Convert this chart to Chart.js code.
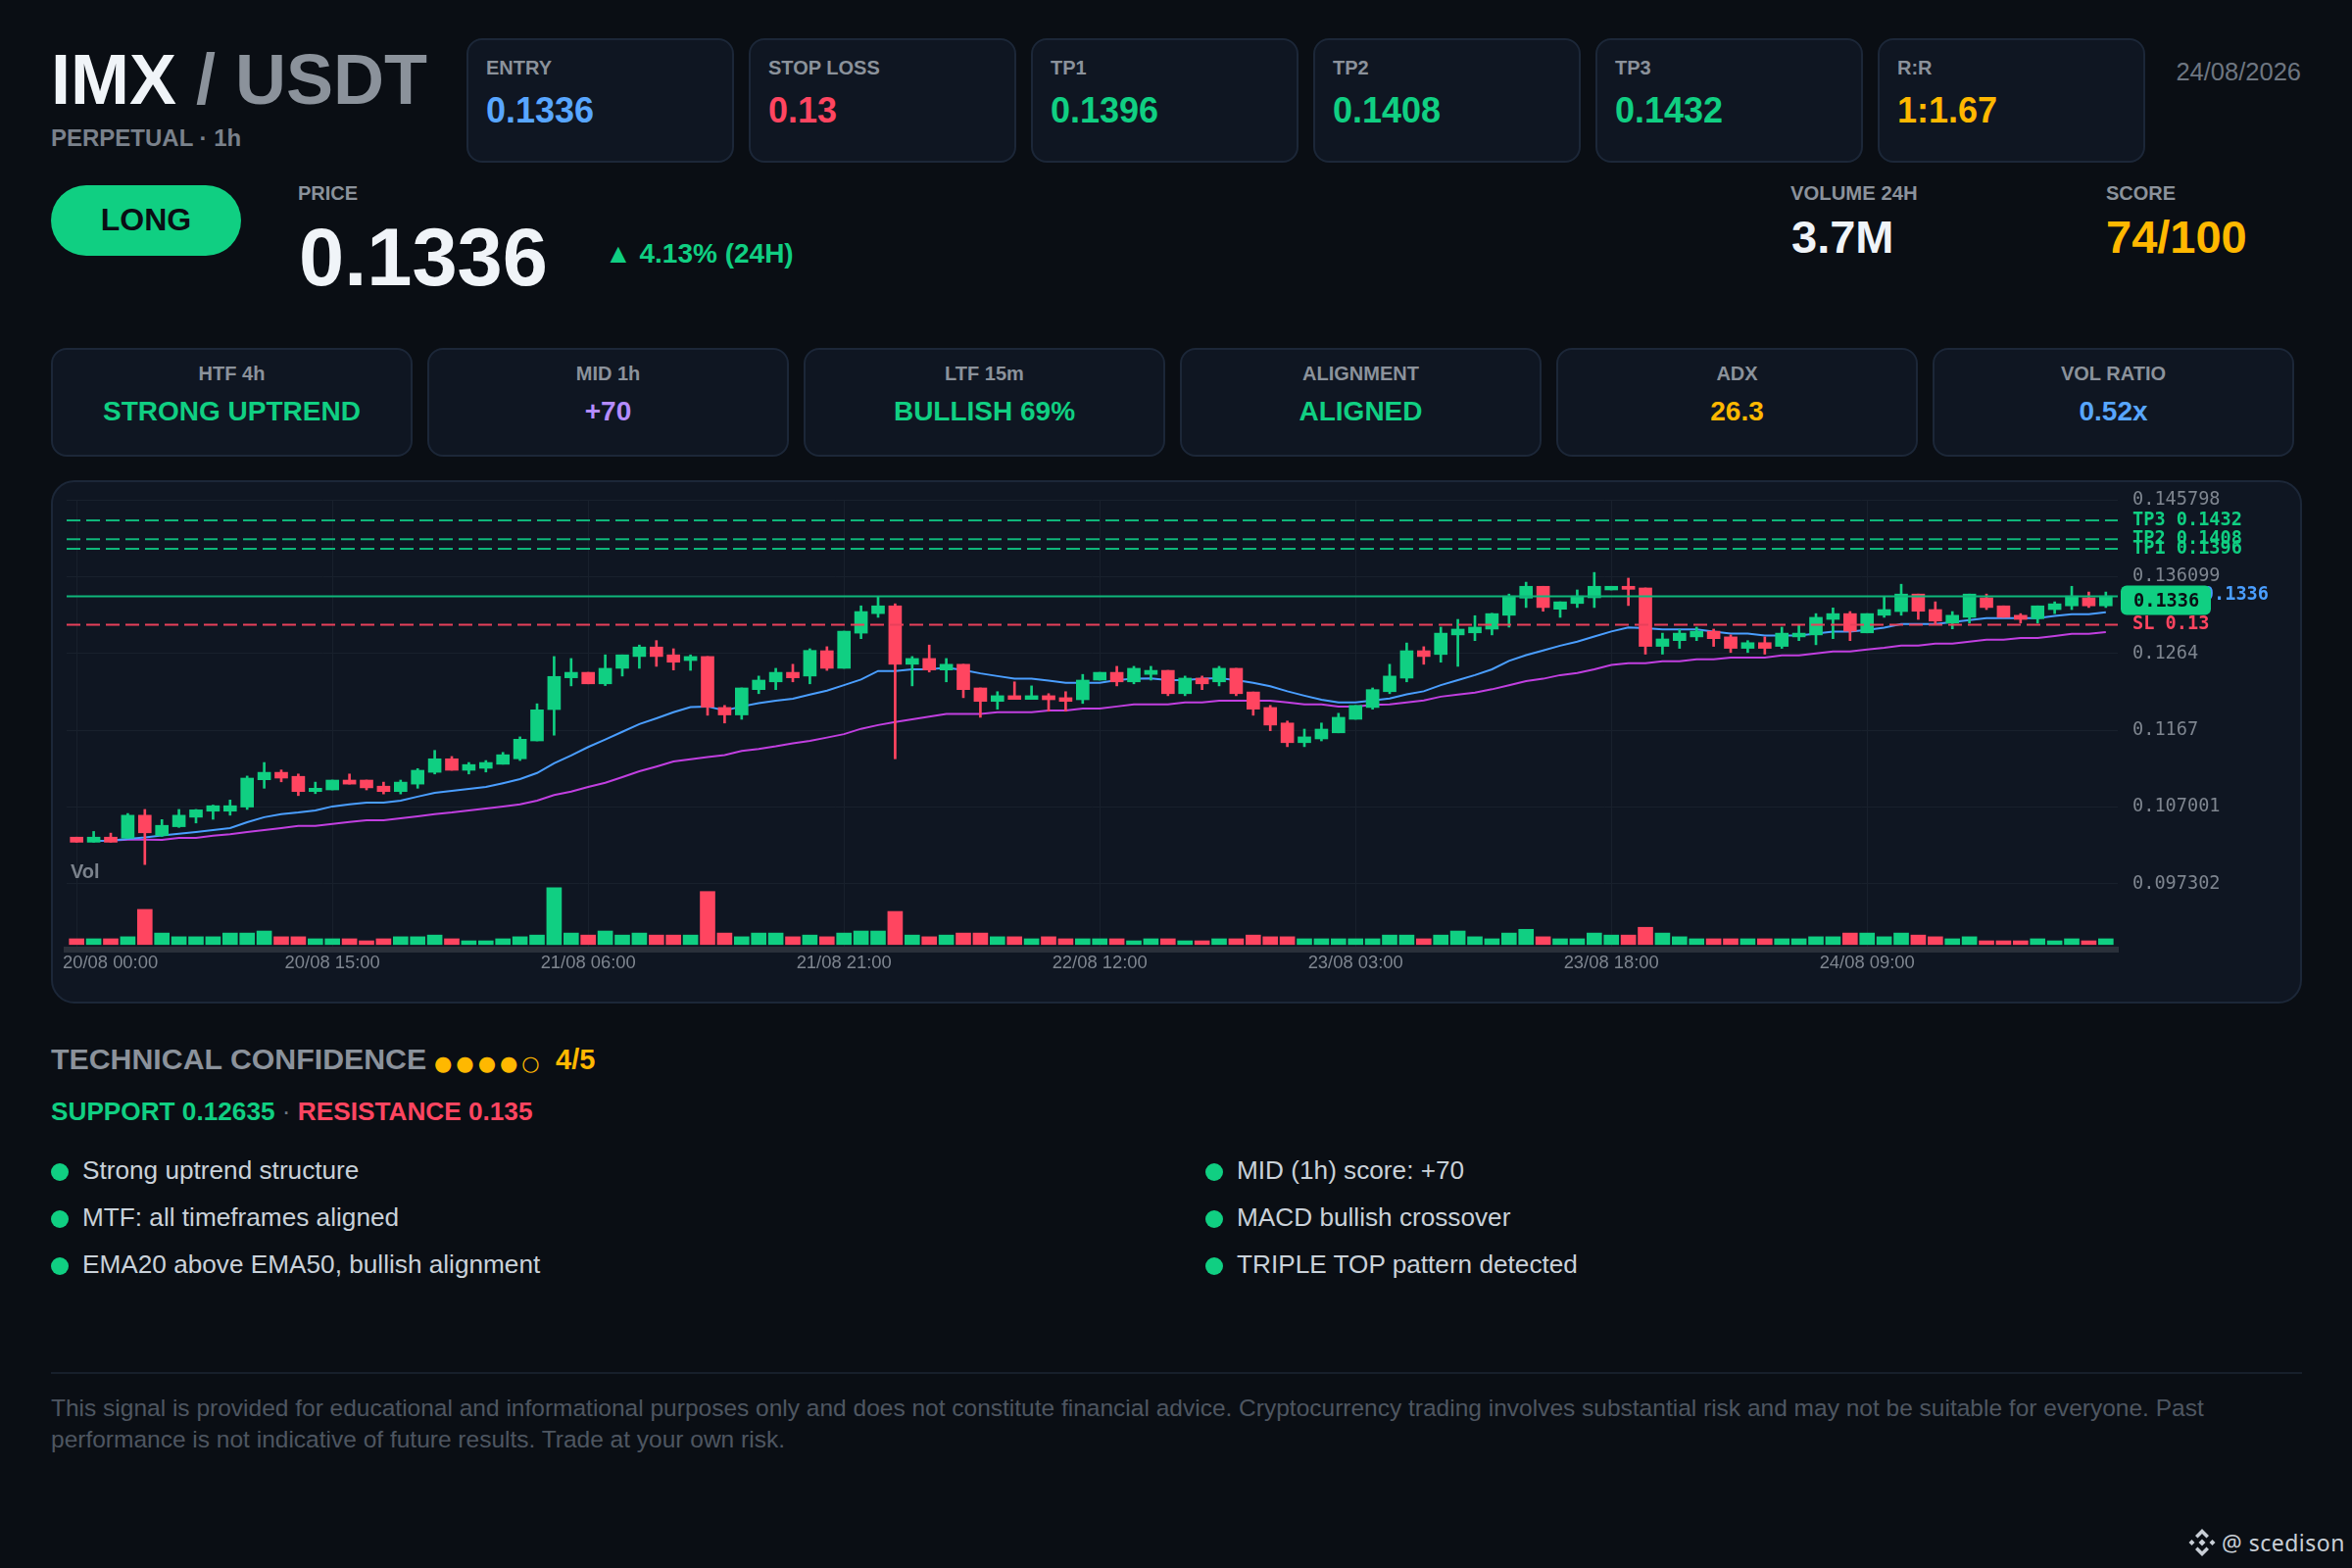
<!DOCTYPE html>
<html>
<head>
<meta charset="utf-8">
<title>IMX / USDT signal</title>
<script src="https://cdn.jsdelivr.net/npm/chart.js@4/dist/chart.umd.min.js"></script>
<style>
html, body { margin: 0; padding: 0; background: #0a0e14; }
body { position: relative; width: 2400px; height: 1600px; overflow: hidden; font-family: "Liberation Sans", Arial, sans-serif; }
.t { position: absolute; white-space: nowrap; line-height: 1; transform: translateY(-50%); font-weight: bold; }
.card { position: absolute; box-sizing: border-box; background: #0f1622; border: 2px solid #1c2738; border-radius: 16px; }
.gray { color: #8b929b; }
.green { color: #10cf82; }
.red { color: #ff4560; }
.blue { color: #58a6ff; }
.yellow { color: #ffb800; }
.purple { color: #b58cff; }
.dot { position: absolute; width: 18px; height: 18px; border-radius: 50%; background: #10cf82; transform: translateY(-50%); }
.li { font-weight: normal; font-size: 26.2px; color: #c9d1d9; }
#panel { position: absolute; left: 52px; top: 490px; width: 2297px; height: 534px; box-sizing: border-box; background: #0f1622; border: 2px solid #1c2738; border-radius: 24px; }
#chart { position: absolute; left: 52px; top: 490px; }
</style>
</head>
<body>

<div class="t" style="left:52px;top:81px;font-size:72px;color:#f0f4f8">IMX <span style="color:#8b929b">/ USDT</span></div>
<div class="t" style="left:52px;top:141px;font-size:24px;color:#7a818b">PERPETUAL · 1h</div>
<div class="t" style="right:52px;top:74px;font-size:25.5px;color:#6e7681;font-weight:normal">24/08/2026</div>

<div id="levels"></div>

<div style="position:absolute;left:52px;top:189px;width:194px;height:72px;border-radius:36px;background:#10cf82"></div>
<div class="t" style="left:52px;width:194px;text-align:center;top:224px;font-size:32px;color:#0a0e14">LONG</div>
<div class="t gray" style="left:304px;top:197px;font-size:20px">PRICE</div>
<div class="t" style="left:305px;top:262px;font-size:83px;color:#f0f4f8">0.1336</div>
<div class="t green" style="left:617px;top:259px;font-size:28px">▲ 4.13% (24H)</div>
<div class="t gray" style="left:1827px;top:197px;font-size:20.3px">VOLUME 24H</div>
<div class="t" style="left:1828px;top:241px;font-size:47px;color:#f0f4f8">3.7M</div>
<div class="t gray" style="left:2149px;top:197px;font-size:20px">SCORE</div>
<div class="t yellow" style="left:2149px;top:241px;font-size:47px">74/100</div>

<div id="stats"></div>

<div id="panel"></div>
<canvas id="chart" width="2297" height="534"></canvas>
<div class="t" style="left:72px;top:889px;font-size:20px;color:#7b828c">Vol</div>

<div class="t gray" style="left:52px;top:1081px;font-size:30.3px">TECHNICAL CONFIDENCE</div>
<div class="t yellow" style="left:443px;top:1085px;font-size:21px;letter-spacing:4px;font-family:'DejaVu Sans';font-weight:normal">●●●●○</div>
<div class="t yellow" style="left:567px;top:1081px;font-size:29px">4/5</div>
<div class="t" style="left:52px;top:1134px;font-size:26.2px"><span class="green">SUPPORT 0.12635</span> <span style="color:#6e7681;font-weight:normal">·</span> <span class="red">RESISTANCE 0.135</span></div>

<div id="notes"></div>

<div style="position:absolute;left:52px;top:1400px;width:2297px;height:2px;background:#171f2b"></div>
<div style="position:absolute;left:52px;top:1421px;font-size:24.5px;line-height:32px;color:#4e5661;white-space:nowrap">This signal is provided for educational and informational purposes only and does not constitute financial advice. Cryptocurrency trading involves substantial risk and may not be suitable for everyone. Past<br>performance is not indicative of future results. Trade at your own risk.</div>

<svg style="position:absolute;left:2233px;top:1560px" width="28" height="28" viewBox="0 0 28 28" fill="#c8ced6">
<path d="M14 0 L21 7 L18.5 9.5 L14 5 L9.5 9.5 L7 7 Z"/>
<path d="M14 28 L7 21 L9.5 18.5 L14 23 L18.5 18.5 L21 21 Z"/>
<path d="M14 10.5 L17.5 14 L14 17.5 L10.5 14 Z"/>
<path d="M3.5 11 L6.5 14 L3.5 17 L0.5 14 Z"/>
<path d="M24.5 11 L27.5 14 L24.5 17 L21.5 14 Z"/>
</svg>
<div class="t" style="left:2267px;top:1574px;font-size:23px;font-weight:normal;color:#c8ced6;font-family:'Noto Sans';letter-spacing:0.5px">@ scedison</div>

<script>
// candles, 1h, 20/08 00:00 to 24/08 23:00
const opens = [
0.10318,0.10254,0.10318,0.10305,0.10595,0.10339,0.10450,0.10570,0.10646,0.10646,
0.10698,0.11043,0.11137,0.11086,0.10894,0.10915,0.11039,0.11039,0.10962,0.10894,
0.10988,0.11137,0.11308,0.11163,0.11188,0.11239,0.11308,0.11534,0.11930,0.12331,
0.12400,0.12255,0.12451,0.12600,0.12720,0.12621,0.12549,0.12600,0.11956,0.11862,
0.12182,0.12280,0.12400,0.12353,0.12673,0.12451,0.12895,0.13142,0.13240,0.12502,
0.12575,0.12430,0.12502,0.12203,0.12033,0.12105,0.12058,0.12105,0.12080,0.12054,
0.12302,0.12400,0.12280,0.12374,0.12425,0.12131,0.12327,0.12280,0.12451,0.12152,
0.11956,0.11760,0.11512,0.11559,0.11636,0.11807,0.11956,0.12156,0.12327,0.12673,
0.12626,0.12873,0.12899,0.12946,0.13121,0.13338,0.13487,0.13197,0.13270,0.13342,
0.13441,0.13487,0.13466,0.12728,0.12801,0.12848,0.12920,0.12848,0.12703,0.12775,
0.12728,0.12848,0.12873,0.13069,0.13142,0.12899,0.13121,0.13168,0.13389,0.13193,
0.13022,0.13095,0.13342,0.13240,0.13121,0.13078,0.13193,0.13240,0.13342,0.13240];
const highs = [
0.10318,0.10390,0.10369,0.10617,0.10668,0.10540,0.10668,0.10668,0.10723,0.10787,
0.11090,0.11261,0.11167,0.11116,0.11013,0.11039,0.11116,0.11039,0.11013,0.11039,
0.11184,0.11414,0.11337,0.11261,0.11286,0.11389,0.11585,0.12003,0.12600,0.12575,
0.12400,0.12621,0.12621,0.12745,0.12801,0.12698,0.12621,0.12600,0.11982,0.12203,
0.12353,0.12451,0.12502,0.12698,0.12724,0.12920,0.13240,0.13351,0.13266,0.12600,
0.12745,0.12575,0.12502,0.12203,0.12156,0.12280,0.12229,0.12131,0.12156,0.12374,
0.12400,0.12476,0.12476,0.12476,0.12425,0.12353,0.12353,0.12476,0.12451,0.12152,
0.11982,0.11785,0.11683,0.11760,0.11883,0.11982,0.12203,0.12502,0.12771,0.12724,
0.12971,0.13069,0.13116,0.13146,0.13389,0.13539,0.13487,0.13291,0.13441,0.13662,
0.13487,0.13590,0.13466,0.12895,0.12941,0.12971,0.12946,0.12873,0.12801,0.12848,
0.12971,0.12993,0.13142,0.13214,0.13168,0.13142,0.13351,0.13513,0.13389,0.13291,
0.13168,0.13389,0.13389,0.13240,0.13142,0.13240,0.13291,0.13487,0.13415,0.13415];
const lows = [
0.10254,0.10254,0.10254,0.10305,0.09972,0.10326,0.10441,0.10497,0.10544,0.10595,
0.10668,0.10936,0.11017,0.10843,0.10868,0.10915,0.10988,0.10915,0.10864,0.10864,
0.10936,0.11116,0.11163,0.11116,0.11141,0.11239,0.11286,0.11534,0.11606,0.12229,
0.12255,0.12233,0.12353,0.12451,0.12476,0.12430,0.12425,0.11858,0.11760,0.11807,
0.12131,0.12182,0.12280,0.12255,0.12425,0.12451,0.12826,0.13095,0.11308,0.12229,
0.12404,0.12280,0.12080,0.11832,0.11935,0.12058,0.12058,0.11909,0.11909,0.12007,
0.12302,0.12229,0.12255,0.12302,0.12105,0.12105,0.12182,0.12229,0.12105,0.11858,
0.11662,0.11461,0.11461,0.11534,0.11636,0.11807,0.11935,0.12131,0.12280,0.12502,
0.12528,0.12476,0.12801,0.12873,0.12971,0.13219,0.13172,0.13095,0.13219,0.13219,
0.13441,0.13244,0.12630,0.12630,0.12703,0.12801,0.12728,0.12651,0.12651,0.12630,
0.12703,0.12801,0.12749,0.12826,0.12801,0.12899,0.13095,0.13121,0.13069,0.13001,
0.12950,0.13022,0.13193,0.13095,0.13022,0.13022,0.13142,0.13193,0.13219,0.13219];
const closes = [
0.10254,0.10318,0.10254,0.10595,0.10373,0.10467,0.10595,0.10663,0.10715,0.10715,
0.11064,0.11137,0.11064,0.10894,0.10936,0.11039,0.10988,0.10941,0.10894,0.11013,
0.11163,0.11308,0.11163,0.11235,0.11261,0.11359,0.11555,0.11926,0.12348,0.12400,
0.12255,0.12451,0.12621,0.12720,0.12600,0.12528,0.12600,0.11960,0.11862,0.12203,
0.12302,0.12400,0.12331,0.12677,0.12451,0.12920,0.13168,0.13240,0.12502,0.12575,
0.12430,0.12502,0.12182,0.12033,0.12105,0.12058,0.12105,0.12054,0.12033,0.12302,
0.12400,0.12280,0.12451,0.12425,0.12131,0.12327,0.12255,0.12451,0.12131,0.11935,
0.11734,0.11512,0.11585,0.11683,0.11832,0.11982,0.12182,0.12353,0.12673,0.12600,
0.12895,0.12946,0.12971,0.13142,0.13364,0.13487,0.13219,0.13291,0.13364,0.13487,
0.13487,0.13449,0.12728,0.12822,0.12895,0.12920,0.12826,0.12703,0.12775,0.12703,
0.12895,0.12895,0.13095,0.13142,0.12920,0.13142,0.13193,0.13389,0.13172,0.13048,
0.13121,0.13389,0.13219,0.13095,0.13069,0.13240,0.13266,0.13364,0.13240,0.13364];
// volume in thousands
const volumes = [
170,170,170,230,1040,340,230,230,230,340,
340,400,230,230,170,170,170,110,170,230,
230,280,170,110,110,170,230,280,1680,340,
280,400,280,340,280,280,280,1570,340,230,
340,340,230,280,230,340,400,400,980,280,
230,280,340,340,230,230,170,230,170,170,
170,170,110,170,170,110,110,170,170,280,
230,230,170,170,170,170,170,280,280,170,
280,400,230,170,340,450,230,170,170,340,
280,280,510,340,230,170,170,170,170,170,
170,170,230,230,340,340,230,340,280,230,
170,230,110,110,110,170,110,170,110,170];
const ema20 = [
null,0.10271,0.10275,0.10297,0.10314,0.10339,0.10360,0.10382,0.10407,0.10433,
0.10506,0.10570,0.10608,0.10629,0.10655,0.10706,0.10732,0.10753,0.10753,0.10779,
0.10830,0.10877,0.10902,0.10928,0.10953,0.11000,0.11052,0.11128,0.11252,0.11350,
0.11457,0.11551,0.11649,0.11747,0.11819,0.11896,0.11960,0.11969,0.11918,0.11969,
0.12011,0.12041,0.12067,0.12118,0.12169,0.12238,0.12310,0.12417,0.12417,0.12438,
0.12438,0.12459,0.12430,0.12387,0.12353,0.12319,0.12319,0.12297,0.12267,0.12267,
0.12267,0.12302,0.12319,0.12323,0.12302,0.12302,0.12319,0.12327,0.12302,0.12267,
0.12225,0.12161,0.12105,0.12054,0.12020,0.12020,0.12046,0.12071,0.12122,0.12161,
0.12238,0.12302,0.12365,0.12438,0.12545,0.12617,0.12677,0.12737,0.12788,0.12852,
0.12916,0.12967,0.12959,0.12941,0.12941,0.12941,0.12916,0.12890,0.12890,0.12865,
0.12865,0.12865,0.12890,0.12916,0.12916,0.12937,0.12963,0.13010,0.13010,0.13010,
0.13035,0.13061,0.13086,0.13086,0.13086,0.13086,0.13112,0.13133,0.13133,0.13159];
const ema50 = [
null,0.10271,0.10275,0.10288,0.10288,0.10284,0.10309,0.10309,0.10335,0.10356,
0.10382,0.10407,0.10433,0.10459,0.10459,0.10484,0.10510,0.10531,0.10531,0.10557,
0.10582,0.10608,0.10629,0.10655,0.10680,0.10706,0.10732,0.10779,0.10851,0.10894,
0.10953,0.11005,0.11077,0.11150,0.11209,0.11273,0.11303,0.11329,0.11354,0.11406,
0.11431,0.11465,0.11504,0.11534,0.11576,0.11619,0.11687,0.11734,0.11773,0.11807,
0.11841,0.11875,0.11875,0.11875,0.11896,0.11896,0.11896,0.11918,0.11918,0.11943,
0.11943,0.11969,0.11994,0.11994,0.11994,0.12020,0.12020,0.12041,0.12041,0.12041,
0.12041,0.12020,0.11994,0.11994,0.11969,0.11969,0.11990,0.11994,0.12020,0.12046,
0.12093,0.12118,0.12144,0.12186,0.12238,0.12289,0.12319,0.12365,0.12391,0.12438,
0.12493,0.12515,0.12515,0.12540,0.12540,0.12566,0.12566,0.12587,0.12587,0.12587,
0.12613,0.12613,0.12639,0.12664,0.12664,0.12690,0.12711,0.12737,0.12737,0.12762,
0.12762,0.12788,0.12813,0.12813,0.12835,0.12835,0.12860,0.12886,0.12886,0.12907];

const timeTicks = [0, 15, 30, 45, 60, 75, 90, 105];
const timeLabels = ['20/08 00:00', '20/08 15:00', '21/08 06:00', '21/08 21:00', '22/08 12:00', '23/08 03:00', '23/08 18:00', '24/08 09:00'];
const priceTicks = [0.145798, 0.136099, 0.1264, 0.1167, 0.107001, 0.097302];
const levelNames = ['TP3', 'TP2', 'TP1', 'SL'];
const levelPrices = [0.1432, 0.1408, 0.1396, 0.13];
const entryPrice = 0.1336;

const cardNames = ['ENTRY', 'STOP LOSS', 'TP1', 'TP2', 'TP3', 'R:R'];
const cardValues = ['0.1336', '0.13', '0.1396', '0.1408', '0.1432', '1:1.67'];
const cardColors = ['blue', 'red', 'green', 'green', 'green', 'yellow'];
const statNames = ['HTF 4h', 'MID 1h', 'LTF 15m', 'ALIGNMENT', 'ADX', 'VOL RATIO'];
const statValues = ['STRONG UPTREND', '+70', 'BULLISH 69%', 'ALIGNED', '26.3', '0.52x'];
const statColors = ['green', 'purple', 'green', 'green', 'yellow', 'blue'];
const notesLeft = ['Strong uptrend structure', 'MTF: all timeframes aligned', 'EMA20 above EMA50, bullish alignment'];
const notesRight = ['MID (1h) score: +70', 'MACD bullish crossover', 'TRIPLE TOP pattern detected'];

const GREEN = '#10cf82';
const RED = '#ff4560';

// html cards
let html = '';
cardNames.forEach((name, i) => {
    const left = 476 + i * 288;
    html += `<div class="card" style="left:${left}px;top:39px;width:273px;height:127px"></div>`;
    html += `<div class="t gray" style="left:${left + 20}px;top:69px;font-size:20px">${name}</div>`;
    html += `<div class="t ${cardColors[i]}" style="left:${left + 20}px;top:113px;font-size:36px">${cardValues[i]}</div>`;
});
document.getElementById('levels').innerHTML = html;

html = '';
statNames.forEach((name, i) => {
    const left = 52 + i * 384;
    html += `<div class="card" style="left:${left}px;top:355px;width:369px;height:111px"></div>`;
    html += `<div class="t gray" style="left:${left}px;width:369px;text-align:center;top:381px;font-size:20px">${name}</div>`;
    html += `<div class="t ${statColors[i]}" style="left:${left}px;width:369px;text-align:center;top:420px;font-size:28px">${statValues[i]}</div>`;
});
document.getElementById('stats').innerHTML = html;

html = '';
[notesLeft, notesRight].forEach((notes, col) => {
    notes.forEach((text, i) => {
        const y = 1196 + i * 48;
        const x = col === 0 ? 52 : 1230;
        html += `<div class="dot" style="left:${x}px;top:${y}px"></div>`;
        html += `<div class="t li" style="left:${x + 32}px;top:${y - 2}px">${text}</div>`;
    });
});
document.getElementById('notes').innerHTML = html;

// chart
const xMin = -0.586;
const xMax = 119.7;
const isUp = i => closes[i] >= opens[i];
const upDown = opens.map((o, i) => isUp(i) ? GREEN : RED);

function levelLine(price, color, dash, label) {
    return {
        type: 'line', label: label, order: 0,
        data: [{ x: xMin, y: price }, { x: xMax, y: price }],
        borderColor: color, borderWidth: 2, borderDash: dash,
        pointRadius: 0, tension: 0, yAxisID: 'y'
    };
}

function emaLine(values, color, label) {
    return {
        type: 'line', label: label, order: 4,
        data: values.map((v, i) => ({ x: i, y: v })),
        borderColor: color, borderWidth: 2,
        pointRadius: 0, tension: 0, spanGaps: false, yAxisID: 'y'
    };
}

// tag and blue entry label sit over the axis labels
const priceTag = {
    id: 'priceTag',
    afterDraw(chart) {
        const ctx = chart.ctx;
        const y = chart.scales.y.getPixelForValue(entryPrice);
        const x = chart.chartArea.right;
        ctx.save();
        ctx.textBaseline = 'middle';
        ctx.font = 'bold 18.6px "DejaVu Sans Mono"';
        ctx.fillStyle = '#4a9eff';
        ctx.textAlign = 'right';
        ctx.fillText('0.1336', x + 154, y - 1);
        ctx.fillStyle = GREEN;
        ctx.beginPath();
        ctx.roundRect(x + 3, y - 11, 92, 30, 6);
        ctx.fill();
        ctx.fillStyle = '#0a0e14';
        ctx.textAlign = 'left';
        ctx.fillText('0.1336', x + 16, y + 6);
        // first time label starts at the left edge of the plot
        ctx.font = '18.4px "Liberation Sans"';
        ctx.fillStyle = '#7e858f';
        ctx.fillText(timeLabels[0], chart.chartArea.left - 4, chart.chartArea.bottom + 14);
        ctx.restore();
    }
};

new Chart(document.getElementById('chart').getContext('2d'), {
    type: 'bar',
    data: {
        datasets: [
            levelLine(levelPrices[0], '#0fb67a', [14, 6], 'TP3'),
            levelLine(levelPrices[1], '#0fb67a', [14, 6], 'TP2'),
            levelLine(levelPrices[2], '#0fb67a', [14, 6], 'TP1'),
            levelLine(entryPrice, '#0fb67a', [], 'Entry'),
            levelLine(levelPrices[3], '#e8405a', [14, 6], 'SL'),
            {
                label: 'Body', order: 1, grouped: false, barThickness: 13, yAxisID: 'y',
                data: opens.map((o, i) => ({ x: i, y: [o, closes[i]] })),
                backgroundColor: upDown
            },
            {
                label: 'Wick', order: 2, grouped: false, barThickness: 2, yAxisID: 'y',
                data: lows.map((l, i) => ({ x: i, y: [l, highs[i]] })),
                backgroundColor: upDown
            },
            emaLine(ema20, '#4a9eff', 'EMA20'),
            emaLine(ema50, '#c13fe0', 'EMA50'),
            {
                label: 'Volume', order: 5, grouped: false, barThickness: 15, yAxisID: 'vol',
                data: volumes.map((v, i) => ({ x: i, y: v })),
                backgroundColor: upDown
            }
        ]
    },
    options: {
        responsive: false,
        animation: false,
        devicePixelRatio: 1,
        layout: { padding: { left: 16, top: 20, right: 0, bottom: 0 } },
        plugins: { legend: { display: false }, tooltip: { enabled: false } },
        scales: {
            x: {
                type: 'linear', offset: false, min: xMin, max: xMax,
                grid: { color: '#18202c', offset: false, drawTicks: false },
                border: { color: '#2a303a', width: 6 },
                afterBuildTicks: s => { s.ticks = timeTicks.map(v => ({ value: v })); },
                afterFit: s => { s.height = 55; s.paddingLeft = 0; s.paddingRight = 0; },
                ticks: {
                    autoSkip: false, maxRotation: 0, padding: 3,
                    color: '#7e858f',
                    font: { family: '"Liberation Sans"', size: 18.4 },
                    callback: v => v === timeTicks[0] ? '' : timeLabels[timeTicks.indexOf(v)]
                }
            },
            y: {
                position: 'right', min: 0.088972, max: 0.145798,
                grid: {
                    drawTicks: false,
                    color: c => c.tick && priceTicks.includes(c.tick.value) ? '#18202c' : 'transparent'
                },
                border: { display: false },
                afterBuildTicks: s => { s.ticks = priceTicks.concat(levelPrices).map(v => ({ value: v })); },
                afterFit: s => { s.width = 188; s.paddingTop = 0; s.paddingBottom = 0; },
                ticks: {
                    autoSkip: false, padding: 15,
                    color: c => {
                        const k = c.tick ? levelPrices.indexOf(c.tick.value) : -1;
                        if (k < 0) return '#7e858f';
                        return levelNames[k] === 'SL' ? RED : GREEN;
                    },
                    font: c => ({
                        family: '"DejaVu Sans Mono"', size: 18.6,
                        weight: c.tick && levelPrices.includes(c.tick.value) ? 'bold' : 'normal'
                    }),
                    callback: v => {
                        const k = levelPrices.indexOf(v);
                        return k < 0 ? String(v) : levelNames[k] + ' ' + v;
                    }
                }
            },
            vol: { display: false, min: -151, max: 13172 }
        }
    },
    plugins: [priceTag]
});
</script>
</body>
</html>
